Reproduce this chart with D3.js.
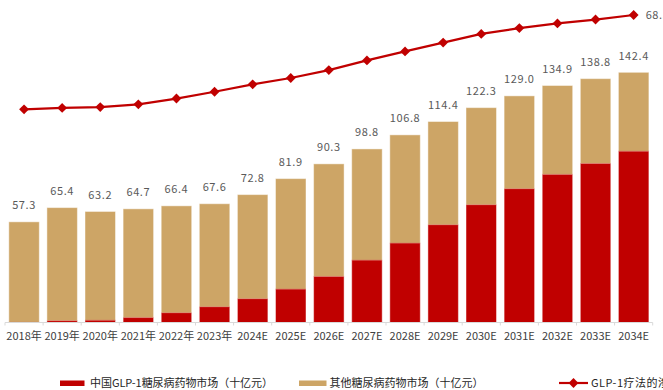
<!DOCTYPE html>
<html>
<head>
<meta charset="utf-8">
<script src="https://cdn.jsdelivr.net/npm/d3@7/dist/d3.min.js"></script>
<style>
  html, body { margin: 0; padding: 0; background: #fff; overflow: hidden; }
  svg { display: block; }
  text { font-family: "Noto Sans CJK SC", "Noto Sans", sans-serif; }
</style>
</head>
<body>
<svg id="chart" width="663" height="390"></svg>
<script>
// Years (actual + forecast)
const years = ["2018年","2019年","2020年","2021年","2022年","2023年","2024E","2025E","2026E",
               "2027E","2028E","2029E","2030E","2031E","2032E","2033E","2034E"];
// Total diabetes drug market, 十亿元
const totalMarket = [57.3,65.4,63.2,64.7,66.4,67.6,72.8,81.9,90.3,98.8,106.8,114.4,122.3,129.0,134.9,138.8,142.4];
// China GLP-1 diabetes drug market, 十亿元
const glp1Market = [0.1,1.0,1.3,2.8,5.5,8.9,13.5,19.0,26.2,35.5,45.2,55.6,67.0,76.1,84.3,90.5,97.5];
// GLP-1 therapy penetration, %
const penetration = [0.2,1.2,1.8,3.8,8.0,12.9,18.3,22.9,28.6,35.6,42.1,48.5,54.8,59.0,62.4,65.2,68.5];

const RED = "#C00000", TAN = "#CDA566";

const svg = d3.select("#chart");

const x = d3.scaleBand().domain(years).range([5, 652.7]).paddingInner(0.2).paddingOuter(0.1);
const y = d3.scaleLinear().domain([0, 160]).range([322.5, 41.4]);
// secondary scale for the penetration line
const yR = d3.scaleLinear().domain([0, 70]).range([109.6, 12.9]);

// stacked bars
const g = svg.append("g");
years.forEach((yr, i) => {
  const bx = x(yr), bw = x.bandwidth();
  // China GLP-1 (bottom)
  g.append("rect")
    .attr("x", bx).attr("width", bw)
    .attr("y", y(glp1Market[i])).attr("height", y(0) - y(glp1Market[i]))
    .attr("fill", RED);
  // other diabetes drugs (top)
  g.append("rect")
    .attr("x", bx).attr("width", bw)
    .attr("y", y(totalMarket[i])).attr("height", y(glp1Market[i]) - y(totalMarket[i]))
    .attr("fill", TAN);
  // faint light outline around the stack
  g.append("rect")
    .attr("x", bx).attr("width", bw)
    .attr("y", y(totalMarket[i])).attr("height", y(0) - y(totalMarket[i]))
    .attr("fill", "none").attr("stroke", "#fff").attr("stroke-opacity", 0.45).attr("stroke-width", 1);
  // segment boundary highlight
  g.append("line")
    .attr("x1", bx).attr("x2", bx + bw)
    .attr("y1", y(glp1Market[i])).attr("y2", y(glp1Market[i]))
    .attr("stroke", "#e06060").attr("stroke-opacity", 0.6).attr("stroke-width", 0.8);
});

// total value labels
svg.append("g").selectAll("text").data(years).join("text")
  .attr("x", d => x(d) + x.bandwidth() / 2)
  .attr("y", (d, i) => y(totalMarket[i]) - 12.5)
  .attr("text-anchor", "middle")
  .attr("font-size", 11)
  .attr("letter-spacing", 0.6)
  .attr("fill", "#595959")
  .text((d, i) => totalMarket[i].toFixed(1));

// x axis
const xAxis = svg.append("g").attr("transform", "translate(0,322.5)");
xAxis.append("line").attr("x1", 5).attr("x2", 652.7).attr("stroke", "#d9d9d9").attr("stroke-width", 1);
const bounds = years.map(d => x(d) - x.step() * x.paddingInner() / 2).concat([652.7]);
bounds[0] = 5;
xAxis.selectAll(".tk").data(bounds).join("line")
  .attr("x1", d => d).attr("x2", d => d).attr("y1", 0).attr("y2", 3)
  .attr("stroke", "#d9d9d9");
xAxis.selectAll(".lbl").data(years).join("text")
  .attr("x", d => x(d) + x.bandwidth() / 2)
  .attr("y", 17.3)
  .attr("text-anchor", "middle")
  .attr("font-size", 11)
  .attr("fill", "#404040")
  .text(d => d);

// penetration line
const line = d3.line().x((d, i) => x(years[i]) + x.bandwidth() / 2).y(d => yR(d));
svg.append("path").datum(penetration)
  .attr("d", line).attr("fill", "none").attr("stroke", RED).attr("stroke-width", 2.2);
const diamond = d3.symbol().type(d3.symbolDiamond2).size(62);
svg.append("g").selectAll("path").data(penetration).join("path")
  .attr("transform", (d, i) => `translate(${x(years[i]) + x.bandwidth() / 2},${yR(d)})`)
  .attr("d", diamond).attr("fill", RED);
// last-point label
const last = penetration.length - 1;
svg.append("text")
  .attr("x", x(years[last]) + x.bandwidth() / 2 + 12)
  .attr("y", yR(penetration[last]) + 4)
  .attr("font-size", 11).attr("letter-spacing", 0.6).attr("fill", "#595959")
  .text(penetration[last].toFixed(1));

// legend
const leg = svg.append("g").attr("transform", "translate(0,383)");
leg.append("rect").attr("x", 60).attr("y", -2.5).attr("width", 24.5).attr("height", 5.5).attr("fill", RED);
leg.append("text").attr("x", 90).attr("y", 4).attr("font-size", 11).attr("fill", "#262626")
  .attr("textLength", 183).attr("lengthAdjust", "spacing")
  .text("中国GLP-1糖尿病药物市场（十亿元）");
leg.append("rect").attr("x", 299).attr("y", -2.5).attr("width", 27.5).attr("height", 5.5).attr("fill", TAN);
leg.append("text").attr("x", 329.5).attr("y", 4).attr("font-size", 11).attr("fill", "#262626")
  .attr("textLength", 154).attr("lengthAdjust", "spacing")
  .text("其他糖尿病药物市场（十亿元）");
leg.append("line").attr("x1", 559).attr("x2", 588).attr("y1", 0).attr("y2", 0)
  .attr("stroke", RED).attr("stroke-width", 2.2);
leg.append("path").attr("transform", "translate(573.5,0)")
  .attr("d", diamond).attr("fill", RED);
leg.append("text").attr("x", 591).attr("y", 4).attr("font-size", 11).attr("fill", "#262626")
  .attr("letter-spacing", 0.5)
  .text("GLP-1疗法的渗透率（%）");
</script>
</body>
</html>
